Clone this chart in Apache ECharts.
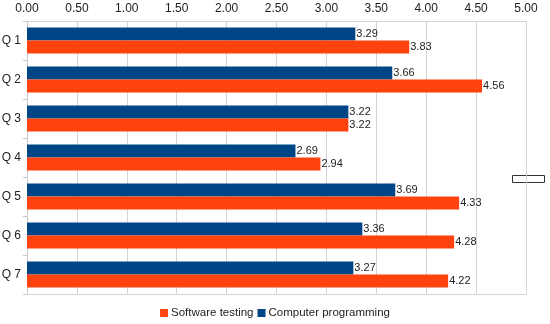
<!DOCTYPE html>
<html><head><meta charset="utf-8">
<script src="https://cdn.jsdelivr.net/npm/echarts@6/dist/echarts.min.js"></script>
<style>html,body{margin:0;padding:0;background:#fff}#c{width:550px;height:324px}</style>
</head><body><div id="c"></div>
<script>
const categories = ["Q 1","Q 2","Q 3","Q 4","Q 5","Q 6","Q 7"];
const computerProgramming = [3.29,3.66,3.22,2.69,3.69,3.36,3.27];
const softwareTesting = [3.83,4.56,3.22,2.94,4.33,4.28,4.22];
const xTicks = [0,0.5,1,1.5,2,2.5,3,3.5,4,4.5,5];

const chart = echarts.init(document.getElementById('c'));
const lbl = {show:true, position:'right', distance:1, color:'#222', fontSize:11, fontFamily:'Liberation Sans', formatter: p => p.value.toFixed(2)};
chart.setOption({
  animation:false,
  textStyle:{fontFamily:'Liberation Sans'},
  grid:{left:27, right:24, top:21, bottom:30, containLabel:false, outerBoundsMode:'none'},
  legend:{data:['Software testing','Computer programming'], top:302, left:'center', itemWidth:8, itemHeight:8, itemGap:4, icon:'rect',
    textStyle:{fontSize:11.5, color:'#222', fontFamily:'Liberation Sans', padding:[0,0,0,-2]}},
  xAxis:[{type:'value', position:'top', min:xTicks[0], max:xTicks[xTicks.length-1], interval:0.5,
    axisLabel:{formatter:v=>v.toFixed(2), color:'#222', fontSize:12, margin:6},
    axisLine:{show:true, lineStyle:{color:'#d4d4d4'}}, axisTick:{show:false},
    splitLine:{show:true, lineStyle:{color:'#d4d4d4'}}},
    {type:'value', position:'bottom', min:0, max:5, interval:0.5,
    axisLabel:{show:false}, axisLine:{show:true, lineStyle:{color:'#d4d4d4'}}, axisTick:{show:false}, splitLine:{show:false}}],
  yAxis:{type:'category', data:categories, inverse:true,
    axisLabel:{color:'#222', fontSize:12, margin:6},
    axisLine:{lineStyle:{color:'#c8c8c8'}}, axisTick:{show:true, length:4, lineStyle:{color:'#c8c8c8'}}},
  series:[
    {name:'Computer programming', type:'bar', data:computerProgramming, itemStyle:{color:'#004586'}, barGap:'0%', barCategoryGap:'33%', label:lbl},
    {name:'Software testing', type:'bar', data:softwareTesting, itemStyle:{color:'#ff420e'}, barGap:'0%', barCategoryGap:'33%', label:lbl}
  ],
  graphic:[{type:'rect', shape:{x:512.5,y:175.5,width:32,height:7}, style:{fill:'#fff', stroke:'#333', lineWidth:1}}]
});
</script></body></html>
